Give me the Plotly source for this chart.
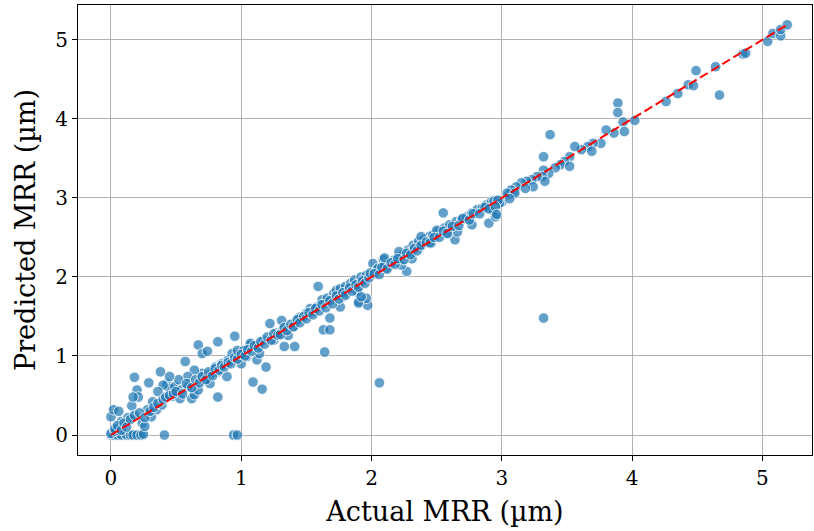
import plotly.graph_objects as go

# Actual vs predicted MRR (µm)
actual_origin = [0.00, 0.02, 0.05, 0.08, 0.12, 0.15, 0.17, 0.20, 0.23, 0.25, 0.00, 0.03,
                 0.00, 0.02, 0.06, 0.08, 0.03, 0.13, 0.16, 0.24, 0.20, 0.21, 0.17, 0.18,
                 0.26, 0.28, 0.31, 0.41, 0.94, 0.97]
pred_origin = [0.00, 0.00, 0.00, 0.00, 0.00, 0.00, 0.00, 0.00, 0.00, 0.01, 0.02, 0.05,
               0.23, 0.32, 0.30, 0.17, 0.08, 0.22, 0.37, 0.15, 0.57, 0.48, 0.48, 0.73,
               0.11, 0.32, 0.23, 0.00, 0.00, 0.00]

actual_low = [0.95, 0.82, 1.07, 0.67, 0.70, 0.74, 0.57, 0.38, 0.29, 0.32, 0.35, 0.39,
              0.43, 0.45, 0.49, 0.54, 0.47, 0.53, 0.62, 0.64, 0.59, 0.67, 0.72, 0.77,
              0.80, 0.85, 0.90, 0.93, 0.98, 1.03, 1.00, 0.89, 0.82, 0.76, 0.70, 0.64,
              0.59, 0.52, 0.45, 0.40, 0.36, 1.09, 1.16, 0.82,
              0.05, 0.08, 0.10, 0.12, 0.15, 0.18, 0.22, 0.26, 0.30, 0.33, 0.36, 0.40,
              0.42, 0.45, 0.48,
              0.50, 0.55, 0.58, 0.62, 0.65, 0.68, 0.70, 0.73, 0.75, 0.78, 0.80, 0.83,
              0.85, 0.87, 0.90, 0.92, 0.95, 0.97]
pred_low = [1.25, 1.18, 1.14, 1.14, 1.03, 1.06, 0.93, 0.80, 0.66, 0.42, 0.32, 0.38,
            0.65, 0.59, 0.61, 0.57, 0.49, 0.46, 0.46, 0.51, 0.61, 0.57, 0.70, 0.78,
            0.86, 0.90, 0.95, 1.03, 1.01, 1.07, 0.90, 0.74, 0.80, 0.65, 0.78, 0.82,
            0.74, 0.70, 0.74, 0.63, 0.55, 0.67, 0.58, 0.48,
            0.12, 0.06, 0.15, 0.10, 0.20, 0.25, 0.28, 0.22, 0.30, 0.35, 0.40, 0.45,
            0.48, 0.50, 0.52,
            0.55, 0.52, 0.65, 0.60, 0.70, 0.66, 0.74, 0.70, 0.80, 0.75, 0.84, 0.82,
            0.88, 0.86, 0.92, 0.90, 0.98, 0.96]

actual_mid = [1.59, 1.22, 1.31, 1.40, 1.41, 1.64, 1.63, 1.68, 1.68, 1.90, 1.97, 1.96,
              2.01, 2.09, 1.19, 0.97, 1.02, 1.07, 1.12, 1.17, 1.04, 1.12, 1.14, 1.25,
              1.27, 1.32, 1.36, 1.33, 1.42, 1.45, 1.50, 1.53, 1.55, 1.58, 1.62, 1.66,
              1.71, 1.73, 1.76, 1.80, 1.78, 1.76, 1.84, 1.87, 1.92, 1.96, 1.89, 1.90,
              1.92, 2.04, 2.11,
              1.00, 1.03, 1.05, 1.08, 1.10, 1.13, 1.15, 1.18, 1.20, 1.23, 1.25, 1.28,
              1.30, 1.33, 1.35, 1.38, 1.40, 1.43, 1.45, 1.48, 1.50, 1.52, 1.55, 1.57,
              1.60, 1.62, 1.65, 1.68, 1.70, 1.73, 1.75, 1.78, 1.80, 1.83, 1.85, 1.88,
              1.90, 1.93, 1.95, 1.98]
pred_mid = [1.88, 1.41, 1.45, 1.37, 1.12, 1.05, 1.33, 1.33, 1.48, 1.69, 1.64, 1.73,
            2.17, 2.22, 0.86, 1.07, 1.07, 1.16, 1.14, 1.20, 0.99, 0.95, 1.03, 1.20,
            1.29, 1.33, 1.26, 1.12, 1.43, 1.49, 1.54, 1.60, 1.56, 1.62, 1.71, 1.73,
            1.79, 1.83, 1.85, 1.88, 1.75, 1.62, 1.92, 1.96, 2.00, 2.02, 1.81, 1.67,
            1.75, 2.09, 2.11,
            1.02, 1.00, 1.08, 1.06, 1.13, 1.10, 1.18, 1.15, 1.24, 1.20, 1.28, 1.26,
            1.27, 1.36, 1.32, 1.40, 1.37, 1.46, 1.42, 1.50, 1.47, 1.55, 1.52, 1.60,
            1.57, 1.65, 1.61, 1.70, 1.66, 1.76, 1.72, 1.80, 1.77, 1.86, 1.82, 1.90,
            1.87, 1.95, 1.92, 1.99]

actual_upper = [2.55, 2.64, 2.90, 2.27, 2.06, 1.99, 2.05, 2.10, 2.17, 2.21, 2.24, 2.28,
                2.32, 2.36, 2.40, 2.44, 2.47, 2.51, 2.56, 2.60, 2.65, 2.69, 2.73, 2.77,
                2.81, 2.85, 2.88, 2.92, 2.96, 3.00, 3.05, 3.09, 2.23, 2.31, 2.37, 2.46,
                2.59, 2.66, 2.77, 2.93, 2.95, 2.10, 2.21, 2.38, 2.50,
                2.02, 2.06, 2.08, 2.12, 2.15, 2.18, 2.20, 2.25, 2.27, 2.30, 2.33, 2.35,
                2.38, 2.42, 2.45, 2.48, 2.52, 2.55, 2.58, 2.62, 2.67, 2.70, 2.75, 2.78,
                2.83, 2.87, 2.90, 2.94, 2.98]
pred_upper = [2.81, 2.47, 2.68, 2.07, 0.66, 2.05, 2.11, 2.15, 2.21, 2.26, 2.28, 2.34,
              2.40, 2.45, 2.47, 2.51, 2.53, 2.57, 2.62, 2.66, 2.70, 2.72, 2.76, 2.81,
              2.85, 2.87, 2.91, 2.95, 2.97, 2.95, 3.04, 3.08, 2.15, 2.23, 2.38, 2.43,
              2.55, 2.57, 2.66, 2.85, 2.76, 2.24, 2.32, 2.51, 2.59,
              2.04, 2.03, 2.12, 2.10, 2.18, 2.16, 2.23, 2.22, 2.30, 2.28, 2.36, 2.33,
              2.40, 2.44, 2.43, 2.50, 2.50, 2.58, 2.55, 2.64, 2.65, 2.74, 2.72, 2.80,
              2.80, 2.88, 2.86, 2.96, 2.93]

actual_high = [3.37, 3.32, 3.89, 3.89, 3.93, 4.02, 3.94, 3.86, 3.80, 3.76, 3.70, 3.66,
               3.61, 3.56, 3.69, 3.52, 3.48, 3.45, 3.52, 3.41, 3.36, 3.32, 3.31, 3.33,
               3.27, 3.23, 3.19, 3.15, 3.11, 3.07, 3.04, 3.24, 3.18, 3.10, 2.97, 2.95,
               2.96, 3.06, 3.32,
               4.26, 4.35, 4.43, 4.47, 4.49, 4.64, 4.67, 4.85, 4.87, 5.04, 5.08, 5.14,
               5.14, 5.19]
pred_high = [3.80, 3.52, 4.20, 4.08, 3.96, 3.98, 3.84, 3.82, 3.86, 3.69, 3.69, 3.65,
             3.61, 3.65, 3.59, 3.52, 3.46, 3.42, 3.40, 3.38, 3.31, 3.35, 3.27, 3.21,
             3.27, 3.23, 3.21, 3.19, 3.14, 3.10, 3.06, 3.14, 3.12, 3.06, 2.97, 2.89,
             2.79, 2.99, 1.48,
             4.22, 4.32, 4.43, 4.42, 4.61, 4.66, 4.30, 4.82, 4.83, 4.98, 5.08, 5.05,
             5.13, 5.19]

actual = actual_origin + actual_low + actual_mid + actual_upper + actual_high
predicted = pred_origin + pred_low + pred_mid + pred_upper + pred_high

ideal = [min(actual), max(actual)]

font_family = "DejaVu Serif"

fig = go.Figure()
fig.add_trace(go.Scatter(
    x=actual, y=predicted, mode="markers",
    marker=dict(size=10.5, color="rgba(31,119,180,0.7)",
                line=dict(color="white", width=0.8)),
    showlegend=False, hoverinfo="x+y",
))
fig.add_trace(go.Scatter(
    x=ideal, y=ideal, mode="lines",
    line=dict(color="red", width=2, dash="9px,4px"),
    showlegend=False,
))

axis_common = dict(
    showgrid=True, gridcolor="#b0b0b0", gridwidth=1,
    showline=True, linecolor="black", linewidth=1.2, mirror=True,
    ticks="outside", ticklen=5, tickcolor="black", tickwidth=1,
    tickfont=dict(family=font_family, size=20, color="black"),
    zeroline=False, dtick=1, automargin=False,
)

fig.update_layout(
    width=814, height=531,
    margin=dict(l=78, r=2, t=5, b=76),
    paper_bgcolor="white", plot_bgcolor="white",
    xaxis=dict(range=[-0.253, 5.38],
               title=dict(text="Actual MRR (µm)", font=dict(family=font_family, size=27, color="black"),
                          standoff=13),
               **axis_common),
    yaxis=dict(range=[-0.253, 5.44],
               title=dict(text="Predicted MRR (µm)", font=dict(family=font_family, size=27, color="black"),
                          standoff=11),
               **axis_common),
)

fig.write_html("out.html", config={"displayModeBar": False},
               post_script="document.body.style.margin='0';")
